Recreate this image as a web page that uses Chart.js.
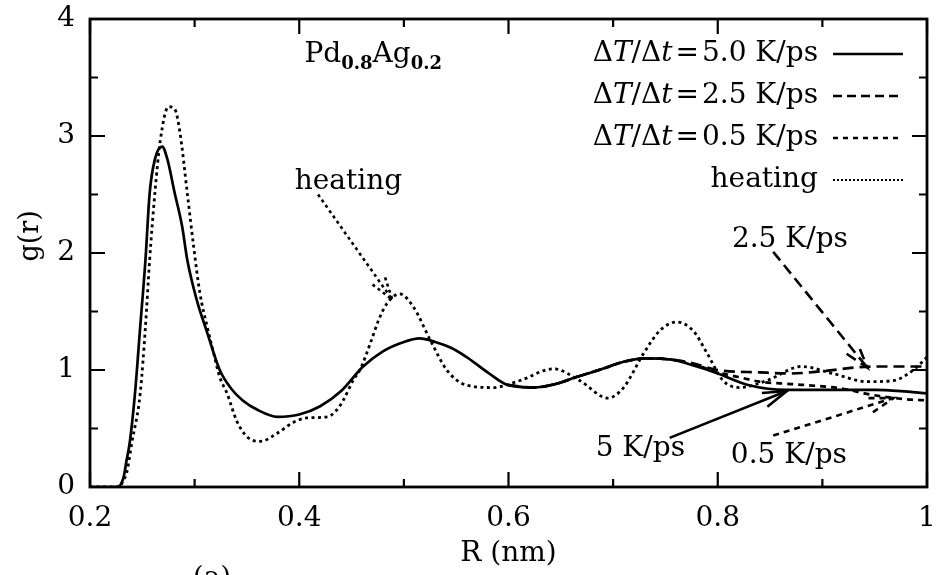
<!DOCTYPE html>
<html><head><meta charset="utf-8">
<script src="https://cdn.jsdelivr.net/npm/chart.js@4/dist/chart.umd.min.js"></script>
<style>html,body{margin:0;padding:0;background:#fff}#wrap{width:940px;height:575px;position:relative}</style>
</head><body><div id="wrap"><canvas id="c" width="940" height="575"></canvas></div>
<script>
// ---- data ----
const xTicks = [0.2, 0.4, 0.6, 0.8, 1.0];
const xTickLabels = ['0.2', '0.4', '0.6', '0.8', '1'];
const xMinorTicks = [0.3, 0.5, 0.7, 0.9];
const yTicks = [0, 1, 2, 3, 4];
const yTickLabels = ['0', '1', '2', '3', '4'];
const yMinorTicks = [0.5, 1.5, 2.5, 3.5];

const seriesNames = ['5.0 K/ps', '2.5 K/ps', '0.5 K/ps', 'heating'];

// ΔT/Δt = 5.0 K/ps (solid)
const r50 = [0.200,0.226,0.232,0.235,0.238,0.243,0.248,0.253,0.257,0.262,0.269,0.274,0.281,0.288,0.293,0.302,0.312,0.324,0.335,0.346,0.360,0.379,0.400,0.420,0.440,0.461,0.480,0.500,0.515,0.530,0.545,0.560,0.580,0.600,0.624,0.645,0.665,0.690,0.710,0.730,0.755,0.780,0.800,0.830,0.866,0.900,0.950,0.975,1.000];
const g50 = [0,0,0.08,0.23,0.38,0.80,1.37,1.94,2.51,2.80,2.91,2.80,2.51,2.23,1.94,1.60,1.32,1.00,0.84,0.74,0.66,0.60,0.62,0.69,0.82,1.03,1.16,1.24,1.27,1.24,1.19,1.11,0.98,0.87,0.85,0.88,0.94,1.01,1.07,1.10,1.09,1.03,0.97,0.87,0.83,0.83,0.83,0.82,0.80];

// ΔT/Δt = 2.5 K/ps (long dash) - coincides with solid below 0.6
const r25 = [0.600,0.624,0.645,0.665,0.690,0.710,0.730,0.755,0.775,0.800,0.840,0.870,0.900,0.930,0.950,1.000];
const g25 = [0.87,0.85,0.88,0.94,1.01,1.07,1.10,1.09,1.06,1.00,0.98,0.97,0.99,1.02,1.03,1.03];

// ΔT/Δt = 0.5 K/ps (short dash) - coincides with solid below 0.6
const r05 = [0.600,0.624,0.645,0.665,0.690,0.710,0.730,0.755,0.780,0.800,0.820,0.840,0.870,0.900,0.920,0.940,0.960,0.980,1.000];
const g05 = [0.87,0.85,0.88,0.94,1.01,1.07,1.10,1.09,1.04,0.98,0.94,0.90,0.88,0.86,0.84,0.80,0.77,0.75,0.74];

// heating (dotted)
const rH = [0.200,0.228,0.232,0.235,0.240,0.248,0.253,0.257,0.262,0.267,0.275,0.281,0.286,0.293,0.299,0.305,0.312,0.318,0.324,0.331,0.340,0.350,0.363,0.379,0.394,0.407,0.427,0.436,0.442,0.452,0.458,0.468,0.476,0.484,0.496,0.509,0.525,0.541,0.560,0.585,0.611,0.643,0.668,0.695,0.710,0.729,0.745,0.761,0.777,0.790,0.805,0.821,0.847,0.880,0.910,0.943,0.968,0.987,1.000];
const gH = [0,0,0.06,0.12,0.38,0.80,1.37,1.94,2.51,2.95,3.25,3.23,3.03,2.51,2.06,1.66,1.37,1.15,0.94,0.80,0.57,0.43,0.39,0.46,0.55,0.59,0.60,0.66,0.74,0.92,1.00,1.23,1.43,1.57,1.65,1.54,1.26,1.00,0.87,0.85,0.91,1.01,0.91,0.76,0.85,1.14,1.34,1.41,1.33,1.14,0.91,0.85,0.91,1.03,0.97,0.90,0.91,1.00,1.11];

// annotations (data coordinates)
const annotLabels = ['heating', '2.5 K/ps', '5 K/ps', '0.5 K/ps'];
const annotLabelR = [0.447, 0.869, 0.726, 0.868];
const annotLabelG = [2.61, 2.11, 0.33, 0.27];
const arrowFromR = [0.418, 0.853, 0.754, 0.853];
const arrowFromG = [2.50, 2.01, 0.42, 0.44];
const arrowToR = [0.489, 0.943, 0.866, 0.968];
const arrowToG = [1.60, 1.02, 0.82, 0.76];
const titleR = 0.405, titleG = 3.63;

// ---- styles ----
const FONT = 'DejaVu Serif';
const dashes = [[], [11, 6], [6, 5], [3, 3.5]];
const legendDashes = [[], [9, 5], [5, 5], [2, 2]];
const arrowDashes = [[3, 3.5], [11, 6], [], [6, 5]];

function pts(r, g) { return r.map((v, i) => ({ x: v, y: g[i] })); }

const datasets = [[r50, g50], [r25, g25], [r05, g05], [rH, gH]].map((s, i) => ({
  label: seriesNames[i],
  data: pts(s[0], s[1]),
  borderColor: '#000',
  borderWidth: i === 3 ? 2.8 : 2.7,
  borderDash: dashes[i],
  pointRadius: 0,
  fill: false,
  cubicInterpolationMode: 'monotone'
}));

function arrow(ctx, x1, y1, x2, y2, dash) {
  ctx.setLineDash(dash);
  ctx.beginPath(); ctx.moveTo(x1, y1); ctx.lineTo(x2, y2); ctx.stroke();
  const a = Math.atan2(y2 - y1, x2 - x1), L = 25, w = 0.3;
  ctx.beginPath();
  ctx.moveTo(x2 - L * Math.cos(a - w), y2 - L * Math.sin(a - w));
  ctx.lineTo(x2, y2);
  ctx.lineTo(x2 - L * Math.cos(a + w), y2 - L * Math.sin(a + w));
  ctx.stroke();
}

const decoPlugin = {
  id: 'deco',
  afterDraw(chart) {
    const { ctx, chartArea: a, scales: { x, y } } = chart;
    ctx.save();
    ctx.strokeStyle = '#000'; ctx.fillStyle = '#000';
    // frame
    ctx.setLineDash([]); ctx.lineWidth = 2.8;
    ctx.strokeRect(a.left, a.top, a.right - a.left, a.bottom - a.top);
    // inward ticks
    ctx.lineWidth = 2.2;
    const tick = (px, len, horiz) => {
      ctx.beginPath();
      if (horiz) {
        ctx.moveTo(a.left, px); ctx.lineTo(a.left + len, px);
        ctx.moveTo(a.right, px); ctx.lineTo(a.right - len, px);
      } else {
        ctx.moveTo(px, a.bottom); ctx.lineTo(px, a.bottom - len);
        ctx.moveTo(px, a.top); ctx.lineTo(px, a.top + len);
      }
      ctx.stroke();
    };
    xTicks.forEach(v => tick(x.getPixelForValue(v), 15, false));
    xMinorTicks.forEach(v => tick(x.getPixelForValue(v), 8, false));
    yTicks.forEach(v => tick(y.getPixelForValue(v), 15, true));
    yMinorTicks.forEach(v => tick(y.getPixelForValue(v), 8, true));

    // legend
    const rowY0 = a.top + 35, rowH = 42;
    const textRight = a.right - 109, lineL = a.right - 94, lineR = a.right - 24;
    ctx.textBaseline = 'middle';
    for (let i = 0; i < 4; i++) {
      const yy = rowY0 + i * rowH;
      let parts;
      if (i < 3) {
        const val = seriesNames[i].split(' ')[0];
        parts = [['Δ', ''], ['T', 'italic '], ['/', ''], ['Δ', ''], ['t', 'italic '], ['=', '', 3], [val + ' K/ps', '']];
      } else parts = [['heating', '']];
      const sz = 28;
      let total = 0;
      parts.forEach(p => { ctx.font = p[1] + sz + 'px "' + FONT + '"'; total += ctx.measureText(p[0]).width + 2 * (p[2] || 0); });
      let xx = textRight - total;
      ctx.textAlign = 'left';
      parts.forEach(p => {
        ctx.font = p[1] + sz + 'px "' + FONT + '"';
        xx += (p[2] || 0);
        ctx.fillText(p[0], xx, yy);
        xx += ctx.measureText(p[0]).width + (p[2] || 0);
      });
      ctx.setLineDash(legendDashes[i]);
      ctx.lineWidth = i === 3 ? 2 : 2.4;
      ctx.beginPath(); ctx.moveTo(lineL, yy); ctx.lineTo(lineR, yy); ctx.stroke();
    }

    // annotations
    ctx.lineWidth = 2.6;
    ctx.textAlign = 'center'; ctx.textBaseline = 'middle';
    ctx.font = '28px "' + FONT + '"';
    for (let i = 0; i < annotLabels.length; i++) {
      ctx.fillText(annotLabels[i], x.getPixelForValue(annotLabelR[i]), y.getPixelForValue(annotLabelG[i]));
      arrow(ctx, x.getPixelForValue(arrowFromR[i]), y.getPixelForValue(arrowFromG[i]),
        x.getPixelForValue(arrowToR[i]), y.getPixelForValue(arrowToG[i]), arrowDashes[i]);
    }

    // composition title Pd0.8Ag0.2
    ctx.setLineDash([]);
    ctx.textAlign = 'left'; ctx.textBaseline = 'alphabetic';
    let tx = x.getPixelForValue(titleR); const ty = y.getPixelForValue(titleG);
    const segs = [['Pd', '28px', 0], ['0.8', 'bold 18px', 7], ['Ag', '28px', 0], ['0.2', 'bold 18px', 7]];
    segs.forEach(s => {
      ctx.font = s[1] + ' "' + FONT + '"';
      ctx.fillText(s[0], tx, ty + s[2]);
      tx += ctx.measureText(s[0]).width;
    });

    // panel label (cut off at the bottom edge)
    ctx.textAlign = 'center'; ctx.textBaseline = 'top';
    ctx.font = '28px "' + FONT + '"';
    ctx.fillText('(a)', 212, 565);
    ctx.restore();
  }
};

new Chart(document.getElementById('c'), {
  type: 'line',
  data: { datasets },
  options: {
    responsive: false,
    devicePixelRatio: 1,
    animation: false,
    layout: { padding: { top: 19, right: 13, left: 0, bottom: 0 } },
    plugins: { legend: { display: false }, tooltip: { enabled: false } },
    scales: {
      x: {
        type: 'linear', min: 0.2, max: 1.0,
        afterBuildTicks: s => { s.ticks = xTicks.map(v => ({ value: v })); },
        afterFit: s => { s.height = 88; s.paddingLeft = 0; s.paddingRight = 0; },
        grid: { display: false, drawTicks: false },
        border: { display: false },
        ticks: { padding: 15, color: '#000', font: { family: FONT, size: 28 }, maxRotation: 0,
          callback: (v, i) => xTickLabels[i] },
        title: { display: true, text: 'R (nm)', color: '#000', font: { family: FONT, size: 28 }, padding: { top: 0, bottom: 4 } }
      },
      y: {
        type: 'linear', min: 0, max: 4,
        afterBuildTicks: s => { s.ticks = yTicks.map(v => ({ value: v })); },
        afterFit: s => { s.width = 90; s.paddingTop = 0; s.paddingBottom = 0; },
        grid: { display: false, drawTicks: false },
        border: { display: false },
        ticks: { padding: 15, color: '#000', font: { family: FONT, size: 28 },
          callback: (v, i) => yTickLabels[i] },
        title: { display: true, text: '    g(r)', color: '#000', font: { family: FONT, size: 27 }, padding: { top: 15, bottom: 0 } }
      }
    }
  },
  plugins: [decoPlugin]
});
</script>
</body></html>
